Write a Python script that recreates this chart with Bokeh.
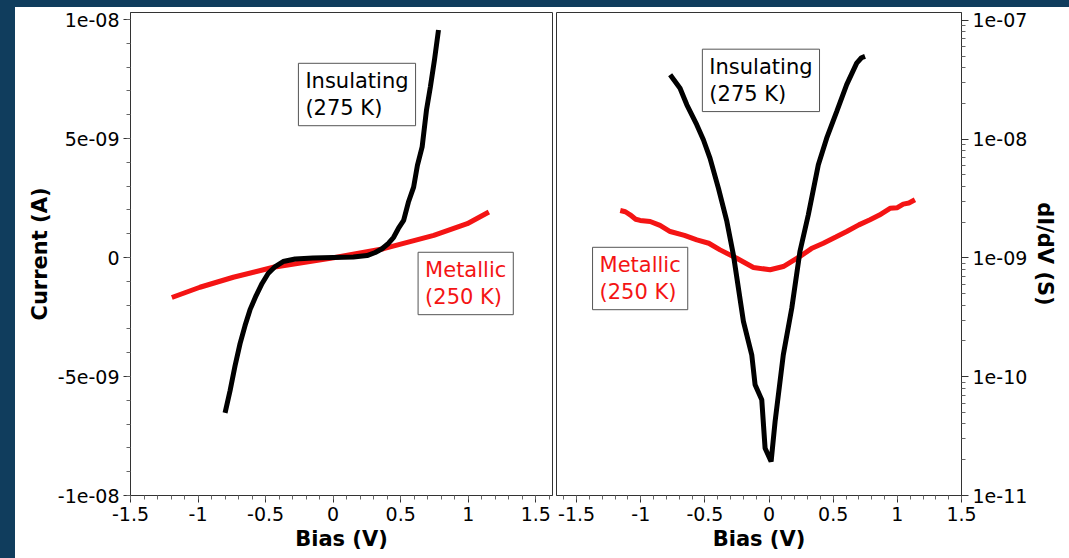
from bokeh.plotting import figure
from bokeh.models import Label, FixedTicker, Div
from bokeh.layouts import column, row
from bokeh.embed import file_html
from bokeh.resources import INLINE

# ---------------- data ----------------
# Left panel: I-V curves (Current in A vs Bias in V)
iv_ins_bias = [-0.800, -0.763, -0.726, -0.689, -0.652, -0.615, -0.570, -0.526, -0.481, -0.429,
               -0.370, -0.281, -0.150, 0.001, 0.150, 0.251, 0.312, 0.362, 0.409, 0.448, 0.483,
               0.522, 0.557, 0.596, 0.624, 0.659, 0.691, 0.720, 0.750, 0.780]
iv_ins_current = [-6.53e-9, -5.60e-9, -4.55e-9, -3.62e-9, -2.86e-9, -2.19e-9, -1.60e-9, -1.09e-9,
                  -0.67e-9, -0.38e-9, -0.17e-9, -0.06e-9, -0.02e-9, 0.0, 0.02e-9, 0.08e-9, 0.21e-9,
                  0.37e-9, 0.59e-9, 0.85e-9, 1.22e-9, 1.56e-9, 2.32e-9, 2.96e-9, 3.87e-9, 4.65e-9,
                  6.19e-9, 7.17e-9, 8.29e-9, 9.56e-9]
iv_met_bias = [-1.194, -0.986, -0.739, -0.442, 0.003, 0.374, 0.745, 0.993, 1.153]
iv_met_current = [-1.68e-9, -1.25e-9, -0.83e-9, -0.41e-9, -0.01e-9, 0.37e-9, 0.93e-9, 1.42e-9, 1.91e-9]

# Right panel: dI/dV (S) vs Bias (V), log scale
g_ins_bias = [-0.771, -0.694, -0.641, -0.563, -0.512, -0.460, -0.395, -0.329, -0.278, -0.239,
              -0.200, -0.135, -0.109, -0.057, -0.031, 0.016, 0.047, 0.111, 0.177, 0.241, 0.306,
              0.384, 0.449, 0.527, 0.605, 0.683, 0.720, 0.748]
g_ins_cond = [3.49e-8, 2.69e-8, 1.95e-8, 1.32e-8, 9.90e-9, 6.90e-9, 3.87e-9, 2.03e-9, 1.06e-9, 5.57e-10,
              2.92e-10, 1.53e-10, 8.55e-11, 6.40e-11, 2.50e-11, 1.93e-11, 4.20e-11, 1.53e-10, 3.78e-10,
              1.14e-9, 2.31e-9, 6.10e-9, 1.02e-8, 1.71e-8, 2.88e-8, 4.37e-8, 4.85e-8, 4.98e-8]
g_met_bias = [-1.160, -1.120, -1.083, -1.040, -1.005, -0.927, -0.850, -0.771, -0.660, -0.563,
              -0.470, -0.382, -0.252, -0.122, 0.008, 0.111, 0.241, 0.330, 0.423, 0.520, 0.605,
              0.700, 0.787, 0.860, 0.943, 1.000, 1.046, 1.090, 1.137]
g_met_cond = [2.51e-9, 2.45e-9, 2.31e-9, 2.12e-9, 2.07e-9, 2.03e-9, 1.88e-9, 1.67e-9, 1.55e-9, 1.42e-9,
              1.33e-9, 1.17e-9, 9.95e-10, 8.32e-10, 7.96e-10, 8.47e-10, 1.03e-9, 1.20e-9, 1.33e-9,
              1.50e-9, 1.67e-9, 1.90e-9, 2.10e-9, 2.30e-9, 2.62e-9, 2.65e-9, 2.84e-9, 2.90e-9, 3.09e-9]

bias_ticks = [-1.5, -1.0, -0.5, 0.0, 0.5, 1.0, 1.5]
bias_tick_labels = ["-1.5", "-1", "-0.5", "0", "0.5", "1", "1.5"]
current_ticks = [-1e-8, -5e-9, 0.0, 5e-9, 1e-8]
current_tick_labels = ["-1e-08", "-5e-09", "0", "5e-09", "1e-08"]
cond_ticks = [1e-11, 1e-10, 1e-9, 1e-8, 1e-7]
cond_tick_labels = ["1e-11", "1e-10", "1e-09", "1e-08", "1e-07"]

ins_label = "Insulating\n(275 K)"
met_label = "Metallic\n(250 K)"

# ---------------- style ----------------
BG = "#103d5d"
RED = "#f41414"
FONT = "DejaVu Sans"
TICK_SIZE = "19px"
AXLABEL_SIZE = "21px"
ANN_SIZE = "21px"


def style_axis(ax, ticks, labels, minor):
    ax.ticker = FixedTicker(ticks=ticks, minor_ticks=minor)
    ax.major_label_overrides = {t: l for t, l in zip(ticks, labels)}
    ax.major_label_text_font = FONT
    ax.major_label_text_font_size = TICK_SIZE
    ax.major_label_text_color = "black"
    ax.axis_label_text_font = FONT
    ax.axis_label_text_font_size = AXLABEL_SIZE
    ax.axis_label_text_font_style = "bold"
    ax.axis_label_text_color = "black"
    ax.axis_line_color = "#333333"
    ax.major_tick_line_color = "#333333"
    ax.minor_tick_line_color = "#666666"
    ax.major_tick_in = 0
    ax.major_tick_out = 7
    ax.minor_tick_in = 0
    ax.minor_tick_out = 4
    ax.major_label_standoff = 4
    ax.axis_label_standoff = 3


bias_minor = [round(-1.6 + 0.1 * i, 2) for i in range(33)]

# ---------------- left panel ----------------
p1 = figure(width=539, height=551, x_range=(-1.5, 1.624), y_range=(-1e-8, 1.0295e-8),
            output_backend="svg", toolbar_location=None,
            min_border_left=115, min_border_right=2, min_border_top=5, min_border_bottom=63)
p1.background_fill_color = "white"
p1.border_fill_color = "white"
p1.outline_line_color = "#333333"
p1.grid.visible = False
p1.line(iv_met_bias, iv_met_current, line_color=RED, line_width=5)
p1.line(iv_ins_bias, iv_ins_current, line_color="black", line_width=5)
p1.xaxis.axis_label = "Bias (V)"
p1.yaxis.axis_label = "Current (A)"
style_axis(p1.xaxis[0], bias_ticks, bias_tick_labels, bias_minor)
style_axis(p1.yaxis[0], current_ticks, current_tick_labels, [i * 1e-9 for i in range(-10, 11)])

# ---------------- right panel ----------------
p2 = figure(width=515, height=551, x_range=(-1.657, 1.5), y_range=(1e-11, 10 ** -6.933),
            y_axis_type="log", y_axis_location="right",
            output_backend="svg", toolbar_location=None,
            min_border_left=2, min_border_right=108, min_border_top=5, min_border_bottom=63)
p2.background_fill_color = "white"
p2.border_fill_color = "white"
p2.outline_line_color = "#333333"
p2.grid.visible = False
p2.line(g_met_bias, g_met_cond, line_color=RED, line_width=5)
p2.line(g_ins_bias, g_ins_cond, line_color="black", line_width=5)
p2.xaxis.axis_label = "Bias (V)"
p2.yaxis.axis_label = "dI/dV (S)"
style_axis(p2.xaxis[0], bias_ticks, bias_tick_labels, bias_minor)
log_minor = [m * 10.0 ** e for e in range(-11, -6) for m in range(2, 10)]
style_axis(p2.yaxis[0], cond_ticks, cond_tick_labels, log_minor)


def box(fig, x, y, text, color):
    lab = Label(x=x, y=y, text=text, anchor="top_left",
                text_font=FONT, text_font_size=ANN_SIZE, text_color=color,
                background_fill_color="white", border_line_color="#555555",
                border_line_width=1, padding=(7, 6), text_line_height=1.1)
    fig.add_layout(lab)


box(p1, -0.257, 8.16e-9, ins_label, "black")
box(p1, 0.629, 0.22e-9, met_label, RED)
box(p2, -0.520, 5.73e-8, ins_label, "black")
box(p2, -1.376, 1.23e-9, met_label, RED)

top = Div(width=1069, height=7, margin=0, styles={"background-color": BG})
left = Div(width=15, height=551, margin=0, styles={"background-color": BG})
p1.margin = 0
p2.margin = 0
layout = column(top, row(left, p1, p2, spacing=0, margin=0), spacing=0, margin=0)

open("out.html", "w").write(file_html(layout, INLINE))
